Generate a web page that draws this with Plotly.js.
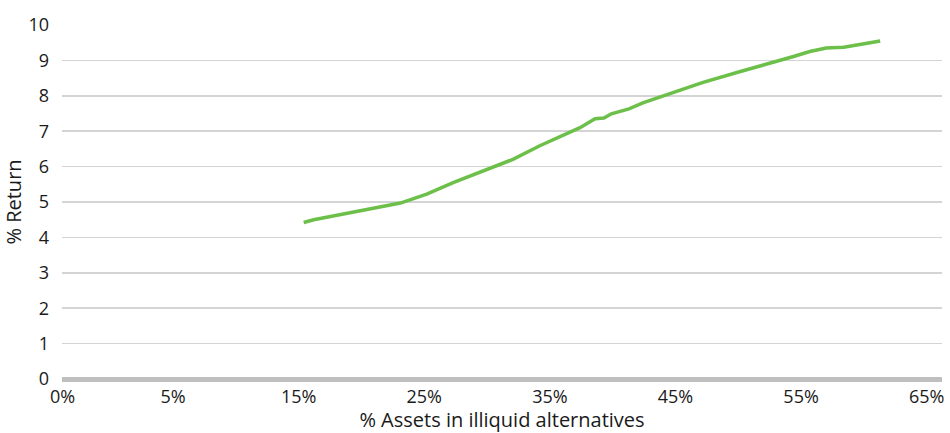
<!DOCTYPE html>
<html>
<head>
<meta charset="utf-8">
<script src="https://cdn.plot.ly/plotly-3.0.1.min.js"></script>
<style>html,body{margin:0;padding:0;background:#fff;}#chart{width:950px;height:433px;}</style>
</head>
<body>
<div id="chart"></div>
<script>
// % assets in illiquid alternatives (x) and % return (y)
const illiquidPct = [15.4, 16.2, 23.1, 25.2, 27.3, 31.0, 32.1, 34.2, 37.4, 38.6, 39.3, 39.9, 41.3, 42.4, 44.8, 47.2, 50.1, 53.3, 54.4, 55.7, 57.0, 58.4, 61.3];
const returnPct   = [4.42, 4.50, 4.97, 5.22, 5.55, 6.06, 6.21, 6.59, 7.10, 7.35, 7.37, 7.49, 7.63, 7.80, 8.10, 8.38, 8.68, 8.99, 9.11, 9.25, 9.35, 9.37, 9.55];

const xTickVals = [-3.8, 5, 15, 25, 35, 45, 55, 65];
const xTickText = ["0%", "5%", "15%", "25%", "35%", "45%", "55%", "65%"];
const yTickVals = [0, 1, 2, 3, 4, 5, 6, 7, 8, 9, 10];

const font = "'Open Sans', 'Noto Sans', sans-serif";

Plotly.newPlot("chart", [{
  x: illiquidPct,
  y: returnPct,
  type: "scatter",
  mode: "lines",
  line: {color: "#6cc04a", width: 3.5, shape: "linear"},
  hoverinfo: "skip",
  cliponaxis: false
}], {
  width: 950, height: 433,
  margin: {l: 62, r: 8, t: 25, b: 54},
  paper_bgcolor: "#ffffff",
  plot_bgcolor: "#ffffff",
  showlegend: false,
  font: {family: font, size: 18, color: "#1a1a1a"},
  xaxis: {
    range: [-3.84, 66.22],
    tickvals: xTickVals,
    ticktext: xTickText,
    showgrid: false,
    zeroline: false,
    showline: false,
    ticks: "",
    ticklabelstandoff: 5,
    tickfont: {family: font, size: 18, color: "#1a1a1a"},
    title: {text: "% Assets in illiquid alternatives", font: {family: font, size: 20, color: "#1a1a1a"}, standoff: 8}
  },
  yaxis: {
    range: [0, 10],
    tickvals: yTickVals,
    showgrid: true,
    gridcolor: "#d4d4d4",
    gridwidth: 1.5,
    zeroline: true,
    zerolinecolor: "#bfbfbf",
    zerolinewidth: 5,
    showline: false,
    ticks: "",
    ticklabelstandoff: 12,
    tickfont: {family: font, size: 18, color: "#1a1a1a"},
    title: {text: "% Return", font: {family: font, size: 20, color: "#1a1a1a"}, standoff: 2}
  }
}, {displayModeBar: false, staticPlot: true});
</script>
</body>
</html>
